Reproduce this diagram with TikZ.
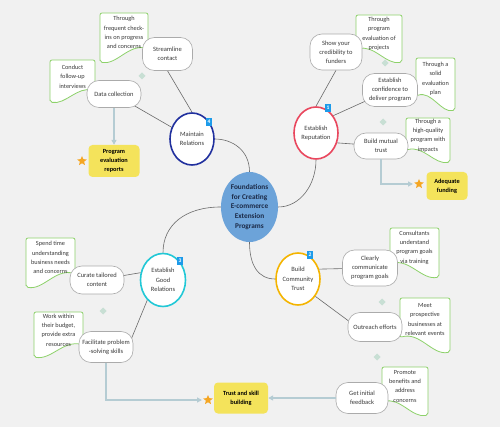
\documentclass[tikz,border=0pt]{standalone}
\usepackage{fontspec}
\setmainfont{Carlito}
\usetikzlibrary{shapes.geometric,arrows.meta,calc}
\pgfdeclarelayer{bgfill}
\pgfdeclarelayer{conns}
\pgfsetlayers{bgfill,conns,main}
\definecolor{bgc}{HTML}{F1F1F1}
\definecolor{nodeb}{HTML}{ABABAB}
\definecolor{linec}{HTML}{6A6A6A}
\definecolor{noteb}{HTML}{8DD16A}
\definecolor{mainb}{HTML}{21309E}
\definecolor{repb}{HTML}{E9475E}
\definecolor{trustb}{HTML}{F4B400}
\definecolor{goodb}{HTML}{22C8D6}
\definecolor{badgec}{HTML}{1D9BEA}
\definecolor{cenf}{HTML}{6CA3D9}
\definecolor{cent}{HTML}{1B2A47}
\definecolor{yel}{HTML}{F4E35B}
\definecolor{starc}{HTML}{F5A623}
\definecolor{arrc}{HTML}{B5CCD3}
\definecolor{markc}{HTML}{C8DFD4}
\definecolor{txt}{HTML}{3A3A3A}
\tikzset{
  sub/.style={draw=nodeb, line width=0.6pt, fill=white, rounded corners=12pt, align=center,
    inner sep=1pt, font=\fontsize{6.5}{9}\selectfont, text=txt},
  topic/.style={ellipse, fill=white, line width=1.6pt, minimum width=44pt, minimum height=52pt,
    inner sep=0pt, align=center, font=\fontsize{6.5}{9.3}\selectfont, text=txt},
  notest/.style={draw=noteb, line width=0.8pt, fill=white, rounded corners=2pt},
  notetxt/.style={align=center, inner sep=0pt, font=\fontsize{6.3}{9.3}\selectfont, text=txt},
  conn/.style={draw=linec, line width=0.6pt},
  arr/.style={draw=arrc, line width=1.2pt, -{Triangle[length=5pt,width=5pt]}},
  yb/.style={fill=yel, rounded corners=4pt, align=center, inner sep=1pt,
    font=\fontsize{6.3}{8.8}\selectfont\bfseries, text=black},
  badge/.style={fill=badgec, text=white, font=\fontsize{5.5}{6}\selectfont\bfseries,
    inner sep=0pt, minimum width=6.5pt, minimum height=7.5pt},
  stardot/.style={star, star points=5, star point ratio=2.2, fill=starc, inner sep=0pt, minimum size=10pt}
}
% right-type note: lowest at right corner
\newcommand\noteR[6]{%
  \draw[notest] (#2,{#5-0.27*(#5-#4)}) -- (#2,#4) -- (#3,#4) -- (#3,#5)
    .. controls ({#3-0.35*(#3-#2)},{#5+0.07*(#5-#4)}) and ({#2+0.4*(#3-#2)},{#5-0.38*(#5-#4)}) ..
    (#2,{#5-0.27*(#5-#4)}) -- cycle;
  \node[notetxt] (#1) at ({(#2+#3)/2},{#4+0.40*(#5-#4)}) {#6};}
% left-type note: lowest at left corner
\newcommand\noteL[6]{%
  \draw[notest] (#2,#5) -- (#2,#4) -- (#3,#4) -- (#3,{#5-0.27*(#5-#4)})
    .. controls ({#3-0.4*(#3-#2)},{#5-0.38*(#5-#4)}) and ({#2+0.35*(#3-#2)},{#5+0.07*(#5-#4)}) ..
    (#2,#5) -- cycle;
  \node[notetxt] (#1) at ({(#2+#3)/2},{#4+0.40*(#5-#4)}) {#6};}
\newcommand\plusmark[2]{%
  \coordinate (#1) at #2;
  \fill[markc] ($(#1)+(-1.7,0)$) circle (1.8pt) ($(#1)+(1.7,0)$) circle (1.8pt)
    ($(#1)+(0,-1.7)$) circle (1.8pt) ($(#1)+(0,1.7)$) circle (1.8pt) (#1) circle (1.6pt);}
\begin{document}
\begin{tikzpicture}[x=1pt,y=-1pt]
\useasboundingbox (0,0) rectangle (500,427);
\begin{pgfonlayer}{bgfill}
  \fill[bgc] (0,0) rectangle (500,427);
\end{pgfonlayer}

% notes
\noteL{n1}{100}{148}{13}{62}{Through\\frequent check-\\ins on progress\\and concerns}
\noteL{n2}{50}{95}{60}{102}{Conduct\\follow-up\\interviews}
\noteR{n3}{356}{402}{15}{62}{Through\\program\\evaluation of\\projects}
\noteR{n4}{416}{455}{58}{110}{Through a\\solid\\evaluation\\plan}
\noteR{n5}{406}{450}{118}{162}{Through a\\high-quality\\program with\\impacts}
\noteR{n6}{390}{439}{228}{277}{Consultants\\understand\\program goals\\via training}
\noteR{n7}{400}{450}{298}{352}{Meet\\prospective\\businesses at\\relevant events}
\noteR{n8}{382}{428}{367}{415}{Promote\\benefits and\\address\\concerns}
\noteL{n9}{26}{75}{238}{287}{Spend time\\understanding\\business needs\\and concerns}
\noteL{n10}{34}{83}{312}{357}{Work within\\their budget,\\provide extra\\resources}

% markers
\plusmark{m1}{(142,76)}
\plusmark{m2}{(385,63)}
\plusmark{m3}{(383,122)}
\plusmark{m4}{(382,302)}
\plusmark{m5}{(377,357)}
\plusmark{m6}{(103,311)}

% center
\node[ellipse, fill=cenf, minimum width=57pt, minimum height=70pt, inner sep=0pt,
  font=\fontsize{7.3}{9.8}\selectfont\bfseries, text=cent, align=center] (cen) at (249.5,207)
  {Foundations\\for Creating\\E-commerce\\Extension\\Programs};

% topics
\node[topic, draw=mainb] (maint) at (192,139) {Maintain\\Relations};
\node[topic, draw=repb] (rep) at (316,133) {Establish\\Reputation};
\node[topic, draw=trustb] (trust) at (298,279) {Build\\Community\\Trust};
\node[topic, draw=goodb, minimum width=45pt, minimum height=53pt] (good) at (163,280) {Establish\\Good\\Relations};

% badges
\node[badge] (b4) at (209,122) {4};
\node[badge] (b1) at (328,108) {1};
\node[badge] (b2) at (310,255) {2};
\node[badge] (b3) at (180,261) {3};

% sub nodes
\node[sub, minimum width=50pt, minimum height=33pt] (stream) at (167.5,54) {Streamline\\contact};
\node[sub, minimum width=54pt, minimum height=27pt] (datacoll) at (114,94) {Data collection};
\node[sub, minimum width=52pt, minimum height=36pt] (showcred) at (336,52) {Show your\\credibility to\\funders};
\node[sub, minimum width=55pt, minimum height=33pt] (estconf) at (390,90) {Establish\\confidence to\\deliver program};
\node[sub, minimum width=54pt, minimum height=26pt] (mutual) at (381,146) {Build mutual\\trust};
\node[sub, minimum width=55pt, minimum height=36pt] (clearly) at (370,268) {Clearly\\communicate\\program goals};
\node[sub, minimum width=54pt, minimum height=29pt] (outreach) at (375,327) {Outreach efforts};
\node[sub, minimum width=52pt, minimum height=31pt] (feedback) at (362,398) {Get initial\\feedback};
\node[sub, minimum width=54pt, minimum height=28pt] (curate) at (97,280) {Curate tailored\\content};
\node[sub, minimum width=54pt, minimum height=31pt] (facil) at (106,347) {Facilitate problem\\-solving skills};

% result boxes
\node[yb, minimum width=51pt, minimum height=32pt] (per) at (114,161) {Program\\evaluation\\reports};
\node[yb, minimum width=41pt, minimum height=28pt] (af) at (447,186) {Adequate\\funding};
\node[yb, minimum width=54pt, minimum height=31pt] (tsb) at (241,398) {Trust and skill\\building};
\node[stardot] (s1) at (82,161) {};
\node[stardot] (s2) at (419,184) {};
\node[stardot] (s3) at (208,400) {};

% arrows
\draw[arr] (datacoll.south) -- (per.north);
\draw[arr] (mutual.south) |- ($(s2.center)+(-6,0)$);
\draw[arr] (facil.south) |- ($(s3.center)+(-6,0)$);
\draw[arr] (feedback.west) -- (tsb.east);

% connectors
\begin{pgfonlayer}{conns}
  \draw[conn] (cen.north) .. controls (249.5,150) and (232,139) .. (maint.east);
  \draw[conn] (cen.east) .. controls (300,207) and (316,185) .. (rep.south);
  \draw[conn] (cen.west) .. controls (185,207) and (163,225) .. (good.north);
  \draw[conn] (cen.south) .. controls (249.5,265) and (258,279) .. (trust.west);
  \draw[conn] (maint.north) -- (stream.south);
  \draw[conn] (datacoll.center) -- (maint.center);
  \draw[conn] (rep.north) -- (showcred.south);
  \draw[conn] (rep.45) -- (estconf.center);
  \draw[conn] (rep.-25) -- (mutual.center);
  \draw[conn] (trust.25) -- (clearly.center);
  \draw[conn] (trust.-45) -- ($(outreach.center)+(-15,2.4)$);
  \draw[conn] (good.162) -- (curate.center);
  \draw[conn] (good.232) -- ($(facil.center)+(22,0)$);
\end{pgfonlayer}
\end{tikzpicture}
\end{document}
